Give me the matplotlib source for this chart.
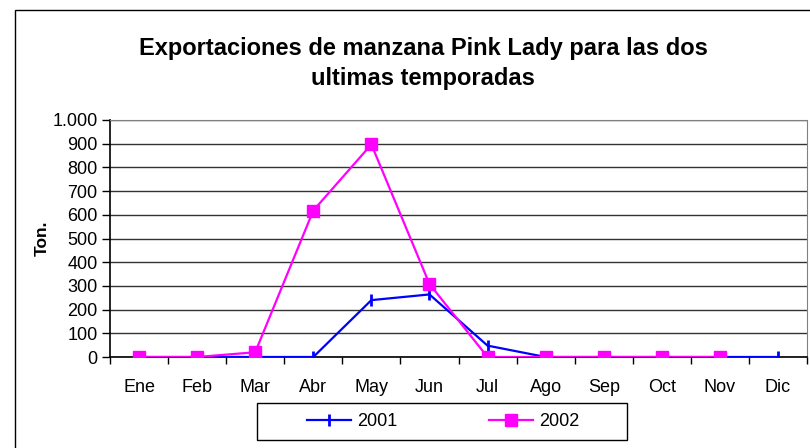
import matplotlib
matplotlib.use("Agg")
import matplotlib.pyplot as plt
from matplotlib.patches import Rectangle
from matplotlib.ticker import FuncFormatter, FixedLocator

plt.rcParams["font.family"] = ["Liberation Sans", "DejaVu Sans"]

months = ["Ene", "Feb", "Mar", "Abr", "May", "Jun", "Jul", "Ago", "Sep", "Oct", "Nov", "Dic"]
exp_2001 = [0, 0, 0, 0, 240, 264, 48, 0, 0, 0, 0, 0]
exp_2002 = [0, 0, 20, 618, 897, 308, 0, 0, 0, 0, 0]

W, H = 810, 448
fig = plt.figure(figsize=(W / 100, H / 100), dpi=100)
ax = fig.add_axes([110 / W, 1 - 357 / H, (807 - 110) / W, (357 - 120) / H])

# outer chart border (only left and top visible)
fig.patches.append(Rectangle((15 / W, -0.2), 1.2, 1.2 - 10 / H, transform=fig.transFigure,
                             fill=False, edgecolor="black", linewidth=1.0, clip_on=False))

x1 = list(range(len(exp_2001)))
x2 = list(range(len(exp_2002)))
ax.plot(x1, exp_2001, color="#0000FF", linewidth=1.6, marker="|", markersize=9,
        markeredgewidth=2, label="2001", zorder=3)
ax.plot(x2, exp_2002, color="#FF00FF", linewidth=1.6, marker="s", markersize=8,
        label="2002", zorder=4)

ax.set_xlim(-0.5, len(months) - 0.5)
ax.set_ylim(0, 1000)
ax.set_yticks(range(0, 1001, 100))
ax.yaxis.set_major_formatter(FuncFormatter(lambda v, p: f"{int(v):,}".replace(",", ".")))
ax.yaxis.grid(True, color="#333333", linewidth=1.0)
ax.set_axisbelow(True)

ax.set_xticks(range(len(months)))
ax.set_xticklabels(months)
ax.xaxis.set_minor_locator(FixedLocator([i - 0.5 for i in range(len(months) + 1)]))
ax.tick_params(axis="x", which="major", length=0, pad=16, labelsize=13)
ax.tick_params(axis="x", which="minor", length=5, direction="out", width=1)
ax.tick_params(axis="y", length=6, direction="out", width=1, labelsize=13, pad=3)

for s in ("top", "right"):
    ax.spines[s].set_color("#808080")
for s in ("left", "bottom"):
    ax.spines[s].set_color("black")
    ax.spines[s].set_linewidth(1.2)

ax.set_ylabel("Ton.", fontsize=12.5, fontweight="bold", labelpad=2)

fig.text(423 / W, 1 - 48 / H, "Exportaciones de manzana Pink Lady para las dos",
         ha="center", va="center", fontsize=17, fontweight="bold")
fig.text(423 / W, 1 - 78 / H, "ultimas temporadas",
         ha="center", va="center", fontsize=17, fontweight="bold")

# legend box drawn separately, entries centred inside it
fig.patches.append(Rectangle((257 / W, 1 - 440 / H), (627 - 257) / W, 37 / H,
                             transform=fig.transFigure, fill=False,
                             edgecolor="black", linewidth=1.0))
fig.legend(loc="center", bbox_to_anchor=(443 / W, 1 - 421.5 / H), ncol=2,
           fontsize=13, frameon=False, handlelength=2.45, columnspacing=5.1,
           handletextpad=0.3, borderpad=0.2)

fig.savefig("out.png", dpi=100)
